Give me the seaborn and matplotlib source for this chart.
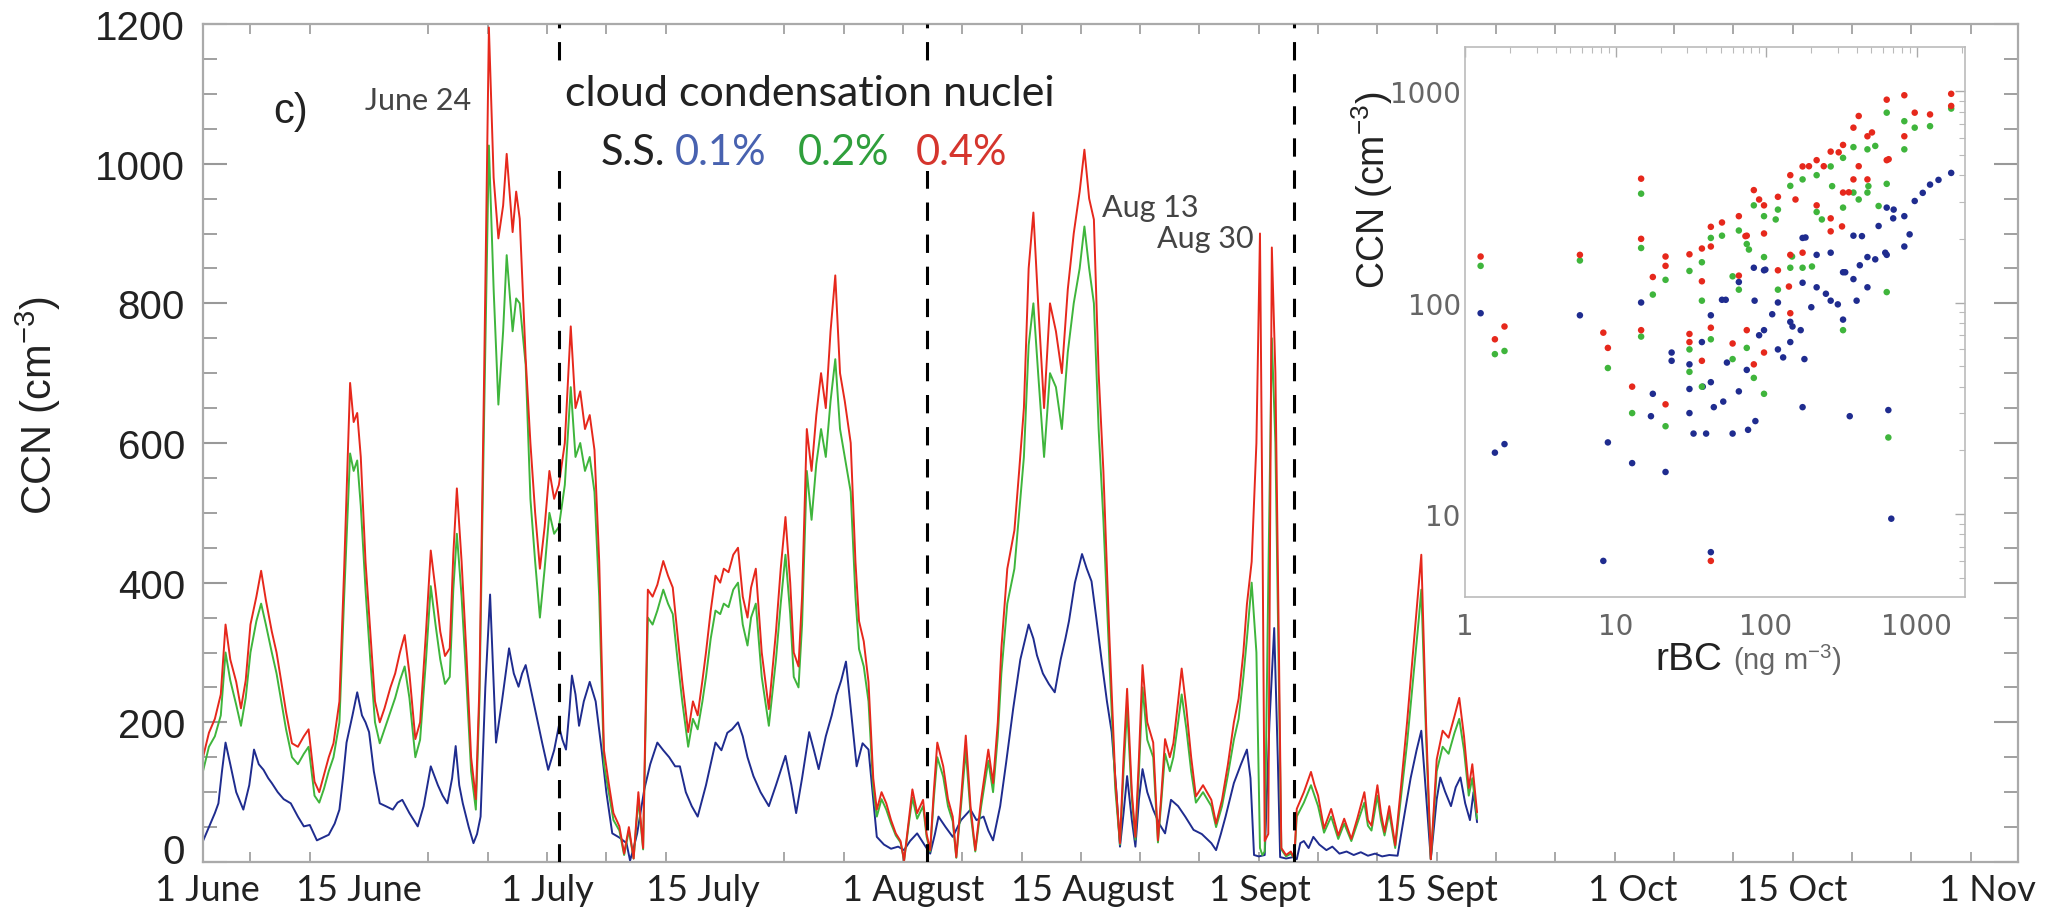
import numpy as np
import pandas as pd
import matplotlib
matplotlib.use("Agg")
import matplotlib.pyplot as plt
import matplotlib.ticker as mticker
from matplotlib.patches import Rectangle
from matplotlib.transforms import ScaledTranslation
import seaborn as sns

# ---------------------------------------------------------------------------
# Data
# ---------------------------------------------------------------------------
START = pd.Timestamp("2013-06-01")
END = pd.Timestamp("2013-11-01")

# CCN at supersaturation 0.4 % : (days since 1 June, cm-3)
ccn04_series = [
    (0.0, 150), (0.5, 185), (1.0, 205), (1.5, 240), (1.9, 340), (2.3, 290), (2.8, 258), (3.2, 220),
    (3.6, 260), (4.0, 340), (4.5, 380), (4.9, 417), (5.3, 375), (5.8, 330), (6.2, 300), (6.6, 258),
    (7.0, 215), (7.5, 170), (8.0, 165), (8.5, 180), (8.9, 190), (9.4, 115), (9.8, 100), (10.2, 125),
    (10.6, 150), (11.0, 170), (11.5, 230), (11.9, 420), (12.4, 686), (12.7, 630), (13.0, 643), (13.3, 580),
    (13.7, 430), (14.1, 330), (14.5, 230), (14.9, 200), (15.3, 220), (15.8, 250), (16.2, 270), (16.6, 300),
    (17.0, 325), (17.4, 270), (17.9, 176), (18.3, 200), (18.8, 330), (19.2, 446), (19.6, 390), (20.0, 330),
    (20.4, 295), (20.8, 306), (21.1, 440), (21.4, 535), (21.8, 430), (22.2, 300), (22.6, 150), (23.0, 90),
    (23.3, 250), (23.7, 700), (24.1, 1195), (24.5, 980), (24.9, 893), (25.3, 940), (25.6, 1014), (26.1, 902),
    (26.4, 960), (26.7, 921), (27.2, 721), (27.6, 600), (28.0, 500), (28.4, 420), (28.8, 480), (29.2, 560),
    (29.6, 520), (30.0, 540), (30.5, 600), (31.0, 767), (31.4, 650), (31.8, 674), (32.2, 620), (32.6, 640),
    (33.0, 590), (33.4, 430), (33.8, 160), (34.2, 113), (34.6, 70), (35.1, 51), (35.5, 12), (35.9, 50),
    (36.3, 5), (36.7, 100), (37.1, 20), (37.5, 390), (37.9, 380), (38.3, 397), (38.8, 431), (39.2, 410),
    (39.6, 393), (40.0, 325), (40.4, 258), (40.9, 186), (41.3, 230), (41.7, 210), (42.1, 260), (42.4, 300),
    (42.8, 360), (43.2, 410), (43.6, 400), (43.9, 420), (44.3, 415), (44.7, 440), (45.1, 450), (45.5, 380),
    (45.9, 350), (46.2, 393), (46.6, 420), (47.1, 300), (47.7, 219), (48.3, 330), (48.7, 420), (49.1, 494),
    (49.5, 400), (49.8, 300), (50.2, 280), (50.5, 380), (50.9, 620), (51.3, 560), (51.7, 640), (52.1, 700),
    (52.5, 650), (52.9, 760), (53.3, 840), (53.7, 700), (54.1, 660), (54.6, 600), (55.0, 430), (55.3, 345),
    (55.7, 316), (56.1, 258), (56.5, 120), (56.8, 75), (57.2, 100), (57.6, 84), (58.0, 60), (58.4, 41),
    (58.8, 30), (59.1, 2), (59.5, 60), (59.8, 104), (60.2, 70), (60.7, 89), (61.0, 40), (61.3, 17),
    (61.6, 100), (61.9, 171), (62.4, 137), (62.8, 90), (63.2, 65), (63.5, 7), (63.9, 90), (64.3, 181),
    (64.7, 80), (65.1, 17), (65.6, 90), (66.2, 161), (66.6, 113), (67.0, 200), (67.3, 306), (67.8, 420),
    (68.4, 475), (68.8, 560), (69.2, 650), (69.6, 850), (70.0, 930), (70.4, 800), (70.9, 650), (71.4, 800),
    (71.9, 760), (72.4, 700), (72.9, 820), (73.4, 900), (73.9, 960), (74.3, 1020), (74.7, 950), (75.1, 920),
    (75.5, 700), (75.9, 560), (76.4, 325), (76.9, 120), (77.3, 27), (77.6, 150), (77.9, 248), (78.3, 100),
    (78.6, 36), (78.9, 150), (79.2, 282), (79.6, 200), (80.1, 171), (80.5, 31), (80.8, 100), (81.1, 176),
    (81.5, 150), (81.8, 170), (82.2, 230), (82.5, 277), (82.9, 219), (83.3, 150), (83.7, 94), (84.3, 110),
    (85.0, 89), (85.4, 55), (85.9, 89), (86.4, 140), (86.9, 200), (87.3, 234), (87.7, 300), (88.0, 369),
    (88.4, 430), (88.8, 600), (89.1, 900), (89.3, 500), (89.5, 30), (89.8, 40), (90.1, 880), (90.4, 700),
    (90.7, 300), (90.9, 20), (91.3, 10), (91.7, 15), (92.0, 5), (92.2, 76), (92.8, 100), (93.4, 129),
    (93.7, 110), (94.0, 95), (94.5, 48), (95.1, 76), (95.7, 38), (96.2, 62), (96.8, 33), (97.3, 62),
    (97.9, 100), (98.2, 60), (98.5, 52), (99.0, 110), (99.3, 70), (99.6, 43), (100.0, 80), (100.5, 24),
    (101.0, 110), (101.5, 200), (102.0, 300), (102.5, 400), (102.7, 440), (103.1, 200), (103.5, 4), (104.0, 147),
    (104.5, 188), (105.0, 178), (105.5, 209), (105.9, 235), (106.3, 180), (106.7, 106), (107.0, 140), (107.4, 71),
]

# CCN at supersaturation 0.2 %
ccn02_series = [
    (0.0, 130), (0.5, 165), (1.0, 180), (1.5, 210), (1.9, 300), (2.3, 260), (2.8, 225), (3.2, 195),
    (3.6, 235), (4.0, 300), (4.5, 345), (4.9, 370), (5.3, 340), (5.8, 300), (6.2, 270), (6.6, 230),
    (7.0, 190), (7.5, 150), (8.0, 140), (8.5, 155), (8.9, 165), (9.4, 95), (9.8, 85), (10.2, 105),
    (10.6, 130), (11.0, 150), (11.5, 200), (11.9, 380), (12.4, 585), (12.7, 560), (13.0, 575), (13.3, 510),
    (13.7, 390), (14.1, 290), (14.5, 200), (14.9, 170), (15.3, 190), (15.8, 215), (16.2, 235), (16.6, 260),
    (17.0, 280), (17.4, 235), (17.9, 150), (18.3, 175), (18.8, 290), (19.2, 395), (19.6, 340), (20.0, 290),
    (20.4, 255), (20.8, 265), (21.1, 390), (21.4, 470), (21.8, 380), (22.2, 260), (22.6, 130), (23.0, 75),
    (23.3, 230), (23.7, 640), (24.1, 1026), (24.5, 820), (24.9, 655), (25.3, 760), (25.6, 869), (26.1, 760),
    (26.4, 807), (26.7, 800), (27.2, 712), (27.6, 520), (28.0, 430), (28.4, 350), (28.8, 420), (29.2, 500),
    (29.6, 470), (30.0, 480), (30.5, 540), (31.0, 680), (31.4, 580), (31.8, 600), (32.2, 560), (32.6, 580),
    (33.0, 530), (33.4, 380), (33.8, 140), (34.2, 100), (34.6, 60), (35.1, 45), (35.5, 10), (35.9, 45),
    (36.3, 5), (36.7, 90), (37.1, 18), (37.5, 350), (37.9, 340), (38.3, 360), (38.8, 390), (39.2, 370),
    (39.6, 355), (40.0, 290), (40.4, 230), (40.9, 165), (41.3, 205), (41.7, 190), (42.1, 230), (42.4, 265),
    (42.8, 320), (43.2, 360), (43.6, 355), (43.9, 370), (44.3, 365), (44.7, 390), (45.1, 400), (45.5, 340),
    (45.9, 310), (46.2, 350), (46.6, 370), (47.1, 265), (47.7, 195), (48.3, 290), (48.7, 370), (49.1, 440),
    (49.5, 355), (49.8, 265), (50.2, 250), (50.5, 340), (50.9, 560), (51.3, 490), (51.7, 570), (52.1, 620),
    (52.5, 580), (52.9, 660), (53.3, 720), (53.7, 620), (54.1, 580), (54.6, 530), (55.0, 380), (55.3, 305),
    (55.7, 280), (56.1, 230), (56.5, 105), (56.8, 65), (57.2, 90), (57.6, 75), (58.0, 55), (58.4, 38),
    (58.8, 28), (59.1, 2), (59.5, 55), (59.8, 92), (60.2, 62), (60.7, 80), (61.0, 36), (61.3, 15),
    (61.6, 90), (61.9, 150), (62.4, 122), (62.8, 80), (63.2, 58), (63.5, 6), (63.9, 80), (64.3, 160),
    (64.7, 70), (65.1, 15), (65.6, 80), (66.2, 145), (66.6, 100), (67.0, 180), (67.3, 270), (67.8, 370),
    (68.4, 420), (68.8, 500), (69.2, 580), (69.6, 740), (70.0, 800), (70.4, 700), (70.9, 580), (71.4, 700),
    (71.9, 680), (72.4, 620), (72.9, 730), (73.4, 800), (73.9, 850), (74.3, 910), (74.7, 850), (75.1, 800),
    (75.5, 620), (75.9, 490), (76.4, 290), (76.9, 105), (77.3, 25), (77.6, 130), (77.9, 220), (78.3, 90),
    (78.6, 32), (78.9, 130), (79.2, 250), (79.6, 175), (80.1, 150), (80.5, 28), (80.8, 90), (81.1, 155),
    (81.5, 130), (81.8, 150), (82.2, 200), (82.5, 240), (82.9, 190), (83.3, 130), (83.7, 85), (84.3, 100),
    (85.0, 80), (85.4, 50), (85.9, 80), (86.4, 125), (86.9, 175), (87.3, 205), (87.7, 265), (88.0, 320),
    (88.4, 400), (88.8, 300), (89.1, 20), (89.3, 10), (89.5, 15), (89.8, 400), (90.1, 750), (90.4, 600),
    (90.7, 250), (90.9, 18), (91.3, 8), (91.7, 12), (92.0, 5), (92.2, 65), (92.8, 85), (93.4, 110),
    (93.7, 95), (94.0, 80), (94.5, 42), (95.1, 65), (95.7, 33), (96.2, 55), (96.8, 30), (97.3, 55),
    (97.9, 85), (98.2, 52), (98.5, 45), (99.0, 95), (99.3, 60), (99.6, 38), (100.0, 70), (100.5, 20),
    (101.0, 95), (101.5, 170), (102.0, 260), (102.5, 350), (102.7, 390), (103.1, 180), (103.5, 4), (104.0, 130),
    (104.5, 165), (105.0, 155), (105.5, 185), (105.9, 205), (106.3, 160), (106.7, 95), (107.0, 120), (107.4, 62),
]

# CCN at supersaturation 0.1 %
ccn01_series = [
    (0.0, 30), (0.5, 50), (1.0, 70), (1.3, 84), (1.6, 130), (1.9, 171), (2.3, 140), (2.8, 100),
    (3.4, 75), (3.9, 110), (4.3, 161), (4.7, 140), (5.1, 132), (5.5, 120), (5.8, 113), (6.3, 100),
    (6.8, 90), (7.4, 84), (8.0, 65), (8.5, 51), (9.0, 53), (9.6, 31), (10.1, 35), (10.6, 39),
    (11.1, 55), (11.5, 75), (11.8, 120), (12.1, 171), (12.6, 210), (13.0, 243), (13.4, 210), (13.7, 200),
    (14.0, 186), (14.4, 130), (14.9, 84), (15.4, 80), (16.0, 75), (16.4, 85), (16.8, 89), (17.4, 70),
    (18.1, 51), (18.6, 80), (19.2, 137), (19.8, 110), (20.2, 95), (20.6, 84), (21.0, 120), (21.3, 166),
    (21.6, 110), (21.9, 84), (22.4, 50), (22.8, 27), (23.1, 40), (23.4, 65), (23.8, 250), (24.2, 383),
    (24.7, 171), (25.2, 230), (25.8, 306), (26.2, 270), (26.6, 251), (26.9, 270), (27.2, 282), (27.6, 250),
    (28.1, 210), (28.6, 170), (29.1, 132), (29.6, 160), (30.0, 195), (30.3, 175), (30.6, 161), (30.9, 220),
    (31.1, 267), (31.4, 240), (31.7, 195), (32.1, 230), (32.6, 258), (33.1, 230), (33.6, 161), (34.0, 100),
    (34.5, 41), (35.1, 35), (35.7, 27), (36.0, 2), (36.3, 20), (36.6, 41), (37.2, 104), (37.7, 140),
    (38.3, 171), (38.8, 160), (39.3, 150), (39.8, 137), (40.2, 137), (40.7, 100), (41.2, 80), (41.7, 65),
    (42.4, 110), (43.2, 171), (43.7, 160), (44.2, 185), (44.6, 190), (45.1, 200), (45.5, 180), (45.9, 150),
    (46.4, 123), (47.0, 100), (47.7, 80), (48.3, 110), (49.1, 152), (49.6, 110), (50.0, 70), (50.5, 120),
    (51.1, 186), (51.5, 160), (51.9, 133), (52.5, 180), (53.0, 210), (53.4, 239), (53.8, 260), (54.2, 287),
    (54.6, 220), (55.1, 137), (55.6, 170), (56.1, 161), (56.5, 90), (56.8, 36), (57.4, 25), (58.0, 19),
    (58.6, 22), (59.1, 17), (59.6, 30), (60.2, 41), (60.8, 25), (61.3, 12), (61.7, 40), (62.0, 65),
    (62.6, 50), (63.2, 36), (63.9, 60), (64.7, 75), (65.2, 60), (65.8, 65), (66.2, 45), (66.6, 31),
    (67.2, 80), (67.7, 142), (68.3, 220), (68.9, 290), (69.6, 340), (70.0, 320), (70.3, 296), (70.8, 270),
    (71.3, 255), (71.8, 243), (72.3, 290), (72.7, 320), (73.0, 345), (73.5, 400), (74.1, 441), (74.5, 420),
    (74.9, 402), (75.3, 350), (75.8, 282), (76.2, 230), (76.6, 186), (77.0, 100), (77.3, 22), (77.6, 70),
    (77.9, 123), (78.3, 60), (78.6, 22), (78.9, 90), (79.2, 133), (79.6, 100), (80.1, 75), (80.6, 55),
    (81.1, 41), (81.6, 89), (82.2, 80), (82.8, 65), (83.5, 46), (84.2, 40), (85.0, 27), (85.4, 17),
    (85.8, 40), (86.2, 65), (86.9, 113), (87.5, 140), (88.0, 161), (88.3, 120), (88.6, 10), (89.0, 8),
    (89.5, 10), (89.9, 200), (90.3, 335), (90.6, 150), (90.8, 7), (91.3, 5), (91.9, 7), (92.2, 4),
    (92.5, 27), (92.8, 30), (93.2, 20), (93.6, 36), (94.1, 25), (94.7, 17), (95.2, 22), (95.8, 12),
    (96.4, 15), (97.0, 10), (97.6, 14), (98.2, 9), (98.8, 12), (99.4, 8), (100.0, 10), (100.7, 9),
    (101.2, 60), (101.8, 120), (102.3, 160), (102.7, 188), (103.0, 120), (103.5, 4), (104.0, 90), (104.3, 121),
    (104.7, 101), (105.2, 80), (105.6, 107), (106.0, 121), (106.4, 84), (106.8, 60), (107.1, 100), (107.4, 57),
]

# Inset: CCN versus refractory black carbon, (rBC ng m-3, CCN cm-3)
scatter01 = [
    (1.27, 89), (1.58, 19.5), (1.83, 21.4), (5.8, 87), (8.3, 6.0), (8.9, 21.8), (12.9, 17.4), (14.8, 100),
    (17.7, 37), (17.2, 29), (21.5, 15.8), (23.6, 58), (23.6, 53), (31, 51), (31, 39), (31, 30), (33, 24),
    (37.5, 65), (38, 40), (40, 24), (43, 87), (43, 42), (45, 32), (43, 6.6), (51, 103), (52, 34), (60, 24),
    (66, 125), (66, 38), (74.5, 48), (76, 25), (83, 146), (84, 102), (85, 27.5), (97, 142), (97, 74),
    (120, 100), (120, 60), (145, 81), (150, 77), (145, 65), (175, 202), (175, 124), (170, 74), (180, 54),
    (175, 32), (217, 168), (217, 118), (269, 172), (269, 102), (325, 139), (325, 83), (360, 29), (381, 207),
    (381, 129), (400, 102), (472, 164), (472, 118), (634, 281), (634, 168), (650, 31), (680, 9.5),
    (830, 256), (830, 184), (973, 302), (1230, 361), (1700, 410), (55, 52), (90, 70), (110, 88), (130, 55),
    (200, 95), (250, 110), (300, 98), (420, 150), (560, 230), (700, 250), (1100, 330), (1400, 380), (900, 210),
    (434, 206), (336, 139), (532, 160), (620, 172), (705, 275), (54, 103), (99, 143), (183, 203),
]
scatter02 = [
    (1.27, 149), (1.58, 57), (1.83, 59), (5.8, 158), (8.9, 49), (12.9, 30), (14.8, 327), (14.8, 181),
    (14.8, 69), (17.7, 109), (21.5, 128), (21.5, 26), (31, 141), (31, 60), (31, 47), (37.5, 155),
    (37.5, 102), (37.5, 40), (43, 202), (43, 67), (51, 207), (60, 54), (66, 219), (66, 115), (74.5, 189),
    (74.5, 61), (83, 288), (83, 44), (97, 256), (97, 164), (97, 37), (120, 275), (120, 115), (145, 356),
    (145, 146), (175, 382), (175, 146), (217, 400), (217, 268), (269, 440), (325, 483), (325, 281),
    (325, 74), (381, 543), (381, 331), (472, 530), (472, 331), (634, 790), (634, 364), (634, 112),
    (650, 23), (830, 720), (830, 530), (973, 671), (1230, 682), (1700, 826),
    (413, 307), (479, 355), (116, 247), (77, 178), (60, 133), (149, 165), (202, 148), (235, 247),
    (275, 355), (532, 550), (560, 286),
]
scatter04 = [
    (1.27, 165), (1.58, 67), (1.83, 77), (5.8, 168), (8.3, 72), (8.9, 61), (12.9, 40), (14.8, 385),
    (14.8, 200), (14.8, 74), (17.7, 132), (21.5, 165), (21.5, 149), (21.5, 33), (31, 169), (31, 71),
    (31, 65), (37.5, 180), (37.5, 126), (37.5, 53), (43, 228), (43, 184), (43, 76), (43, 6.0), (51, 239),
    (60, 64), (66, 256), (66, 134), (74.5, 207), (74.5, 74), (83, 340), (83, 51), (97, 288), (97, 212),
    (97, 58), (120, 316), (120, 142), (145, 400), (145, 168), (145, 89), (175, 440), (175, 172), (217, 471),
    (217, 288), (269, 517), (269, 250), (269, 217), (325, 556), (325, 331), (381, 671), (381, 382),
    (472, 611), (472, 382), (634, 910), (634, 471), (830, 955), (830, 611), (973, 790), (1230, 775),
    (1700, 970), (1700, 850),
    (413, 441), (304, 513), (242, 441), (193, 441), (157, 307), (90, 307), (73, 206), (142, 119),
    (320, 229), (355, 332), (653, 476), (506, 637), (413, 762),
]

month_labels = ["1 June", "15 June", "1 July", "15 July", "1 August", "15 August",
                "1 Sept", "15 Sept", "1 Oct", "15 Oct", "1 Nov"]
month_dates = ["2013-06-01", "2013-06-15", "2013-07-01", "2013-07-15", "2013-08-01", "2013-08-15",
               "2013-09-01", "2013-09-15", "2013-10-01", "2013-10-15", "2013-11-01"]
period_bounds = ["2013-07-01", "2013-08-01", "2013-09-01"]
ccn_ticks = [0, 200, 400, 600, 800, 1000, 1200]

BLUE, GREEN, RED = "#1f2c8f", "#3fb53c", "#e6281c"

# ---------------------------------------------------------------------------
# Styling
# ---------------------------------------------------------------------------
sns.set_theme(style="white")
plt.rcParams["font.family"] = ["Liberation Sans", "DejaVu Sans"]
plt.rcParams["mathtext.fontset"] = "custom"
plt.rcParams["mathtext.rm"] = "Liberation Sans"
plt.rcParams["mathtext.it"] = "Liberation Sans:italic"
plt.rcParams["mathtext.bf"] = "Liberation Sans:bold"

W, H = 2050, 912
fig = plt.figure(figsize=(W / 100, H / 100), dpi=100)


def fx(px):
    return px / W


def fy(py):
    return 1 - py / H


ax = fig.add_axes([fx(203), fy(863), fx(2018) - fx(203), fy(25) - fy(863)])


def to_frame(pairs):
    days, vals = zip(*pairs)
    return pd.DataFrame({"date": START + pd.to_timedelta(np.array(days), unit="D"),
                         "ccn": np.array(vals, dtype=float)})


for pairs, col in [(ccn01_series, BLUE), (ccn02_series, GREEN), (ccn04_series, RED)]:
    sns.lineplot(data=to_frame(pairs), x="date", y="ccn", color=col, lw=1.4,
                 estimator=None, sort=False, ax=ax)

for d in period_bounds:
    ax.axvline(pd.Timestamp(d), color="black", lw=2.2, ls=(0, (6, 4.5)), zorder=4)

ax.set_xlim(START, END)
ax.set_ylim(0, 1200)
ax.set_xlabel("")
ax.set_ylabel("CCN (cm$^{-3}$)", fontsize=30, color="#222")
ax.yaxis.set_label_coords(-0.077, 0.546)

# x axis: month labels without marks, 5-day marks along bottom and top
ax.set_xticks(pd.to_datetime(month_dates))
ax.set_xticklabels(month_labels, fontfamily="Lato", fontsize=26, color="#222")
ax.set_xticks(START + pd.to_timedelta(np.arange(4, 153, 5), unit="D"), minor=True)
ax.tick_params(axis="x", which="major", length=0, pad=8)
ax.tick_params(axis="x", which="minor", length=7, width=1.2, color="#999",
               direction="in", top=True, bottom=True)
label_shift = [4, -10, -12, -22, -14, 0, -34, -24, -18, -24, -31]
for lbl, dx in zip(ax.get_xticklabels(), label_shift):
    lbl.set_transform(lbl.get_transform() + ScaledTranslation(dx / 100, 0, fig.dpi_scale_trans))

ax.set_yticks(ccn_ticks)
ax.yaxis.set_minor_locator(mticker.MultipleLocator(50))
ax.tick_params(axis="y", which="major", length=17, width=1.5, color="#999", direction="in",
               left=True, right=True, labelsize=29, labelcolor="#222", pad=13)
ax.tick_params(axis="y", which="minor", length=10, width=1.3, color="#999", direction="in",
               left=True, right=True)
# the zero label sits a little above its tick, clear of the date labels
zero_label = ax.get_yticklabels()[0]
zero_label.set_transform(zero_label.get_transform() + ScaledTranslation(0, 0.14, fig.dpi_scale_trans))
for s in ax.spines.values():
    s.set_color("#aaa")
    s.set_linewidth(1.6)

# annotations
ax.text(fx(291), fy(112), "c)", transform=fig.transFigure, ha="center", va="center",
        fontsize=30, color="#222")
ax.text(fx(418), fy(101), "June 24", transform=fig.transFigure, ha="center", va="center",
        fontsize=22, fontfamily="Lato", color="#444")
ax.text(fx(1102), fy(208), "Aug 13", transform=fig.transFigure, ha="left", va="center",
        fontsize=22, fontfamily="Lato", color="#444")
ax.text(fx(1157), fy(239), "Aug 30", transform=fig.transFigure, ha="left", va="center",
        fontsize=22, fontfamily="Lato", color="#444")

ax.add_patch(Rectangle((fx(545), fy(172)), fx(1075) - fx(545), fy(72) - fy(172),
                       transform=fig.transFigure, facecolor="white", edgecolor="none", zorder=6))
ax.text(fx(810), fy(94), "cloud condensation nuclei", transform=fig.transFigure, ha="center",
        va="center", fontsize=31, fontfamily="Lato", color="#222", zorder=7)
for txt, x0, col in [("S.S.", 601, "#222"), ("0.1%", 675, "#4862b0"),
                     ("0.2%", 798, "#2f9f3c"), ("0.4%", 916, "#d5352d")]:
    ax.text(fx(x0), fy(165), txt, transform=fig.transFigure, ha="left", va="baseline",
            fontsize=30, fontfamily="Lato", color=col, zorder=7)

# ---------------------------------------------------------------------------
# Inset scatter
# ---------------------------------------------------------------------------
ins = fig.add_axes([fx(1465), fy(598), fx(1965) - fx(1465), fy(48) - fy(598)])
ins.set_facecolor("white")
for pairs, col in [(scatter01, BLUE), (scatter02, GREEN), (scatter04, RED)]:
    xs, ys = zip(*pairs)
    sns.scatterplot(x=np.array(xs), y=np.array(ys), color=col, s=22, edgecolor="none",
                    ax=ins, legend=False, zorder=3)
ins.set_xscale("log")
ins.set_yscale("log")
ins.set_xlim(1, 2100)
ins.set_ylim(4.05, 1615)
ins.xaxis.set_major_locator(mticker.FixedLocator([1, 10, 100, 1000]))
ins.yaxis.set_major_locator(mticker.FixedLocator([10, 100, 1000]))
ins.xaxis.set_major_formatter(mticker.FuncFormatter(lambda v, p: f"{v:g}"))
ins.yaxis.set_major_formatter(mticker.FuncFormatter(lambda v, p: f"{v:g}"))
ins.xaxis.set_minor_locator(mticker.LogLocator(base=10, subs=np.arange(2, 10)))
ins.yaxis.set_minor_locator(mticker.LogLocator(base=10, subs=np.arange(2, 10)))
ins.xaxis.set_minor_formatter(mticker.NullFormatter())
ins.yaxis.set_minor_formatter(mticker.NullFormatter())
ins.tick_params(which="major", length=7, width=1.0, color="#aaa", direction="in",
                top=True, right=True, labelsize=20, labelcolor="#666")
ins.tick_params(which="minor", length=4, width=0.8, color="#bbb", direction="in",
                top=True, right=True)
ins.tick_params(axis="x", pad=11)
ins.tick_params(axis="y", pad=3)
for lbl in ins.get_xticklabels() + ins.get_yticklabels():
    lbl.set_fontfamily("DejaVu Sans")
for s in ins.spines.values():
    s.set_color("#bbb")
    s.set_linewidth(1.2)
ins.set_xlabel("")
ins.set_ylabel("")

fig.text(fx(1372), fy(190), "CCN (cm$^{-3}$)", rotation=90, ha="center", va="center",
         fontsize=27, color="#222")
fig.text(fx(1655), fy(660), "rBC", ha="left", va="center", fontsize=28, color="#222")
fig.text(fx(1733), fy(660), "(ng m$^{-3}$)", ha="left", va="center", fontsize=21, color="#666")

fig.savefig("out.png", dpi=100, facecolor="white")
